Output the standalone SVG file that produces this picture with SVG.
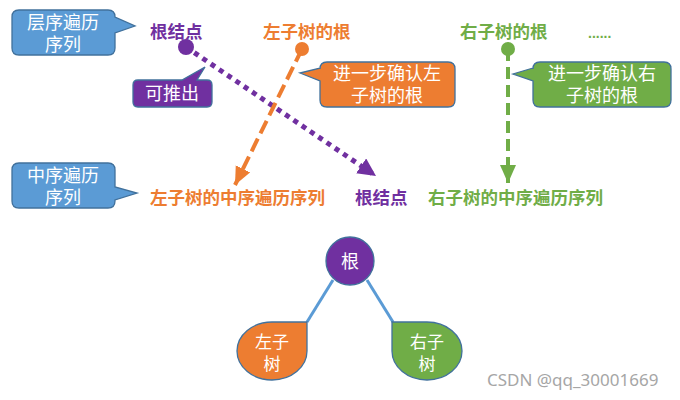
<svg xmlns="http://www.w3.org/2000/svg" width="680" height="400" viewBox="0 0 680 400">
<style>
.co{stroke:#41719C;stroke-width:1.3}
.ct{fill:#fff;font-family:"Liberation Sans","Noto Sans CJK SC",sans-serif;font-size:18px;text-anchor:middle}
.lb{font-family:"Liberation Sans","Noto Sans CJK SC",sans-serif;font-size:17.5px;font-weight:bold}
.blue{fill:#5B9BD5}.purple{fill:#7030A0}.orange{fill:#ED7D31}.green{fill:#70AD47}
</style>
<defs>
<marker id="ap" markerUnits="userSpaceOnUse" markerWidth="20" markerHeight="18" refX="18" refY="9" orient="auto"><path d="M0,0 L18,9 L0,18 Z" fill="#7030A0"/></marker>
<marker id="ao" markerUnits="userSpaceOnUse" markerWidth="20" markerHeight="18" refX="18" refY="8" orient="auto"><path d="M0,0 L18,8 L0,16 Z" fill="#ED7D31"/></marker>
<marker id="ag" markerUnits="userSpaceOnUse" markerWidth="20" markerHeight="18" refX="18" refY="8" orient="auto"><path d="M0,0 L18,8 L0,16 Z" fill="#70AD47"/></marker>
</defs>
<rect width="680" height="400" fill="#fff"/>

<g id="connectors">
<line x1="186" y1="47" x2="376" y2="176" stroke="#7030A0" stroke-width="5" stroke-dasharray="5 5" marker-end="url(#ap)"/>
<line x1="302" y1="49" x2="235" y2="185" stroke="#ED7D31" stroke-width="4" stroke-dasharray="14 6" marker-end="url(#ao)"/>
<line x1="508" y1="49" x2="508" y2="183" stroke="#70AD47" stroke-width="4" stroke-dasharray="12 6" marker-end="url(#ag)"/>
<line x1="333" y1="280" x2="307" y2="322" stroke="#5B9BD5" stroke-width="3"/>
<line x1="367" y1="280" x2="393" y2="322" stroke="#5B9BD5" stroke-width="3"/>
</g>

<g id="callout-level">
<path class="co blue" d="M19,10 H108 Q115,10 115,17 L135,26 L115,33 V48 Q115,55 108,55 H19 Q12,55 12,48 V17 Q12,10 19,10 Z"/>
<text class="ct" x="63" y="29">层序遍历</text>
<text class="ct" x="63" y="51">序列</text>
</g>
<g id="callout-in">
<path class="co blue" d="M19,163 H108 Q115,163 115,170 V187 L137,193 L115,200 V201 Q115,208 108,208 H19 Q12,208 12,201 V170 Q12,163 19,163 Z"/>
<text class="ct" x="63" y="182">中序遍历</text>
<text class="ct" x="63" y="204">序列</text>
</g>
<g id="callout-infer">
<path class="co purple" d="M138,80 H182 L205,67 L197,80 H207 Q212,80 212,85 V102 Q212,107 207,107 H138 Q133,107 133,102 V85 Q133,80 138,80 Z"/>
<text class="ct" x="172" y="100">可推出</text>
</g>
<g id="callout-left">
<path class="co orange" d="M327,62 H448 Q455,62 455,69 V100 Q455,107 448,107 H327 Q320,107 320,100 V81 L300,73 L320,68 V69 Q320,62 327,62 Z"/>
<text class="ct" x="387" y="80">进一步确认左</text>
<text class="ct" x="387" y="102">子树的根</text>
</g>
<g id="callout-right">
<path class="co green" d="M540,62 H664 Q671,62 671,69 V100 Q671,107 664,107 H540 Q533,107 533,100 V81 L513,74 L533,68 V69 Q533,62 540,62 Z"/>
<text class="ct" x="602" y="80">进一步确认右</text>
<text class="ct" x="602" y="102">子树的根</text>
</g>

<g id="level-root">
<text class="lb purple" x="150" y="38">根结点</text>
<circle cx="186" cy="47" r="8" fill="#7030A0"/>
</g>
<g id="level-left">
<text class="lb orange" x="263" y="38">左子树的根</text>
<circle cx="302" cy="49" r="7" fill="#ED7D31"/>
</g>
<g id="level-right">
<text class="lb green" x="460" y="38">右子树的根</text>
<circle cx="508" cy="49" r="7" fill="#70AD47"/>
</g>
<g id="level-more">
<text class="lb green" x="588" y="38" style="font-size:14px">......</text>
</g>

<g id="in-left"><text class="lb orange" x="150" y="204">左子树的中序遍历序列</text></g>
<g id="in-root"><text class="lb purple" x="355" y="204">根结点</text></g>
<g id="in-right"><text class="lb green" x="428" y="204">右子树的中序遍历序列</text></g>

<g id="tree-root">
<circle class="co purple" cx="350" cy="261" r="24"/>
<text class="ct" x="350" y="268">根</text>
</g>
<g id="tree-left">
<path class="co orange" d="M307,322 V351 A35,29 0 0 1 272,380 A35,29 0 0 1 237,351 A35,29 0 0 1 272,322 Z"/>
<text class="ct" x="272" y="348" style="font-size:17px">左子</text>
<text class="ct" x="272" y="370" style="font-size:17px">树</text>
</g>
<g id="tree-right">
<path class="co green" d="M392,322 H427 A35,29 0 0 1 462,351 A35,29 0 0 1 427,380 A35,29 0 0 1 392,351 Z"/>
<text class="ct" x="427" y="348" style="font-size:17px">右子</text>
<text class="ct" x="427" y="370" style="font-size:17px">树</text>
</g>

<text x="487" y="386" fill="#a6a6a6" font-family="'Noto Sans','Open Sans',sans-serif" font-size="17">CSDN @qq_30001669</text>
</svg>
